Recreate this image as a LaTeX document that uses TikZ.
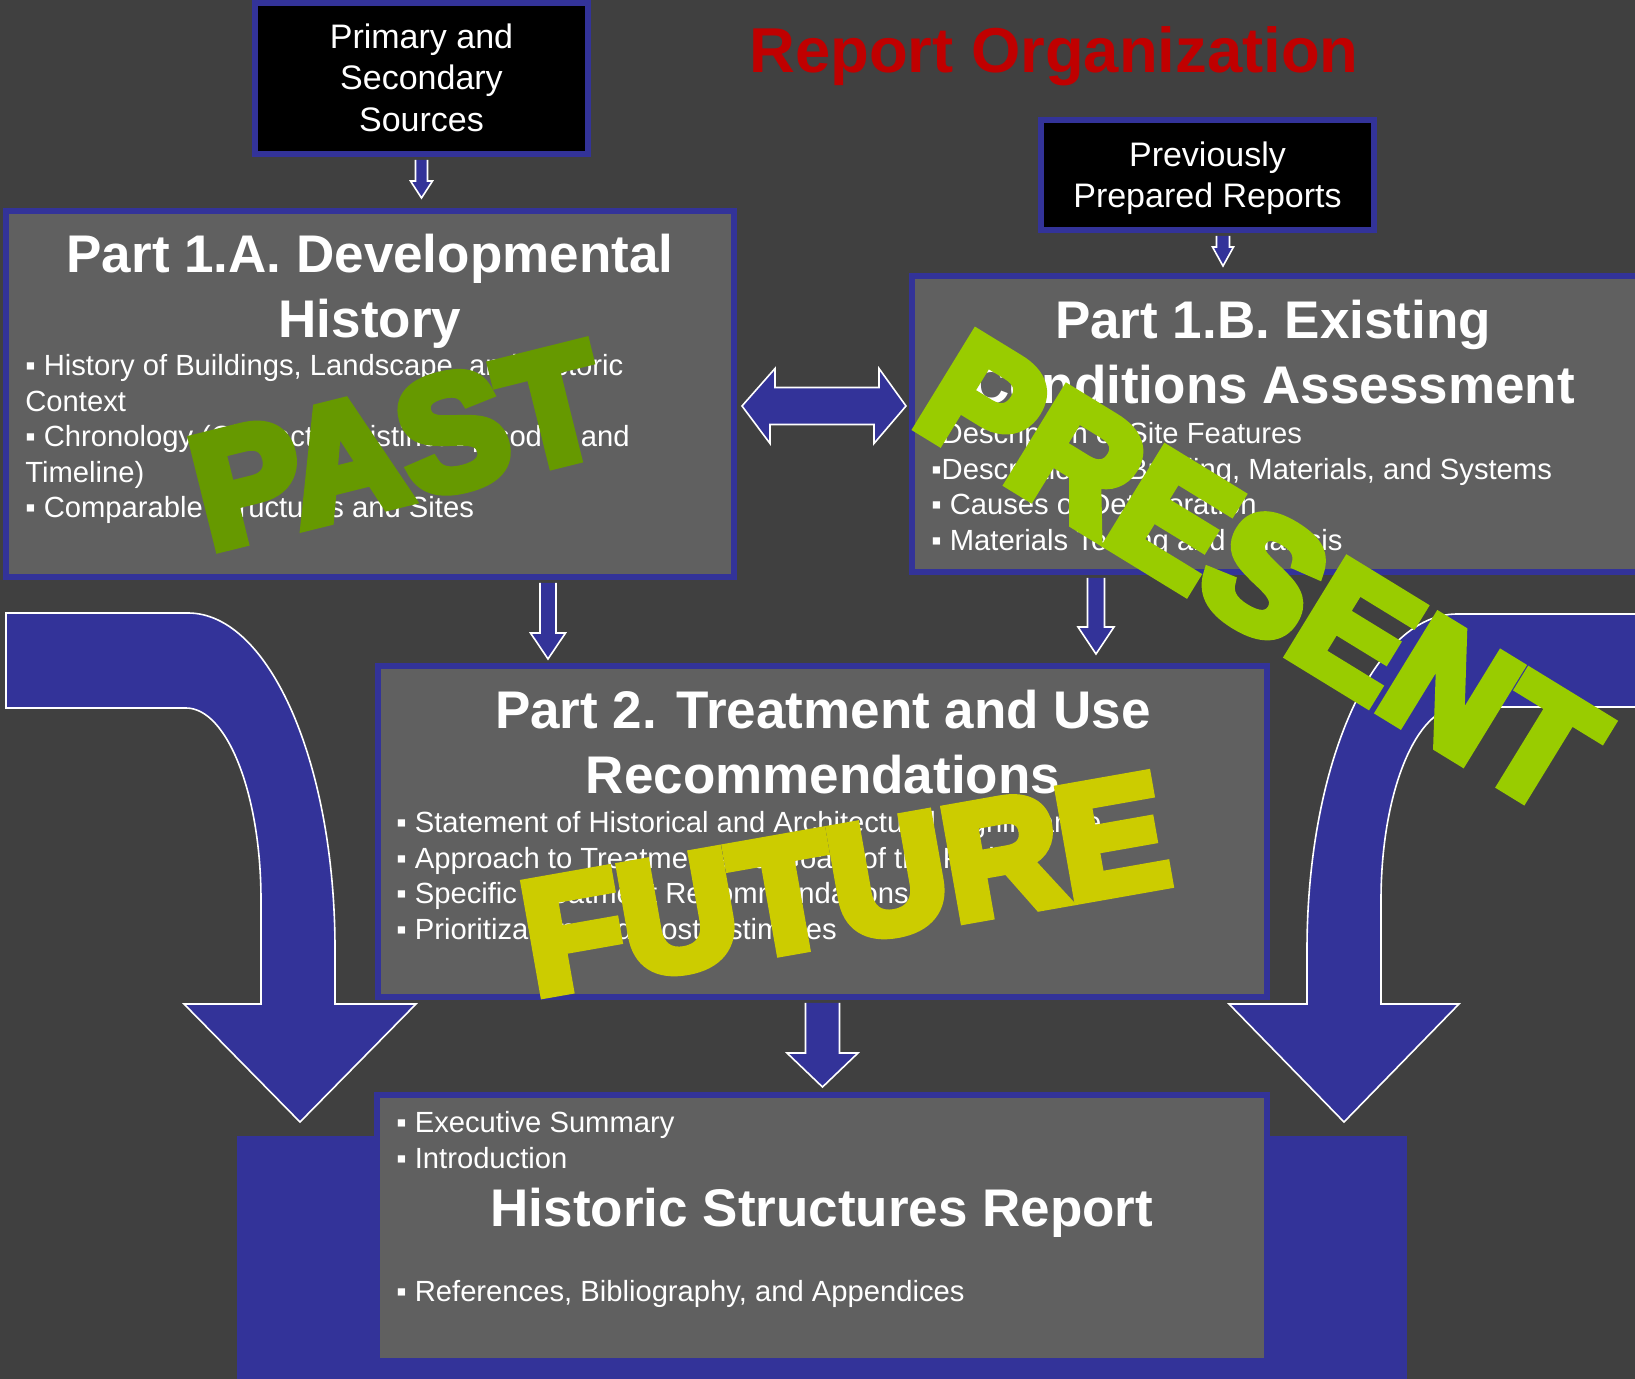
\documentclass[tikz,border=0pt]{standalone}
\usepackage{fontspec}
\setmainfont{Liberation Sans}
\newfontfamily\artfont[BoldFeatures={FakeBold=7}]{Liberation Sans}
\usetikzlibrary{calc, fit}

\definecolor{slidebg}{RGB}{64,64,64}
\definecolor{boxgray}{RGB}{96,96,96}
\definecolor{navy}{RGB}{51,51,153}
\definecolor{titlered}{RGB}{192,0,0}
\definecolor{pastgreen}{RGB}{102,153,0}
\definecolor{presentgreen}{RGB}{153,204,0}
\definecolor{futureyellow}{RGB}{204,204,0}

% Blockpfeil nach unten: Start, Spitze, halbe Schaftbreite, halbe Kopfbreite, Kopflaenge
\newcommand{\blockdown}[5]{%
    \draw[blockarrow] ($(#1)+(-#3,0)$) -- ($(#2)+(-#3,-#5)$) -- ($(#2)+(-#4,-#5)$) -- (#2)
        -- ($(#2)+(#4,-#5)$) -- ($(#2)+(#3,-#5)$) -- ($(#1)+(#3,0)$);}

\begin{document}
\begin{tikzpicture}[x=0.5pt, y=-0.5pt,
        box/.style = {draw=navy, line width=3pt, fill=boxgray, inner sep=0pt},
        srcbox/.style = {draw=navy, line width=3pt, fill=black, inner sep=0pt},
        blockarrow/.style = {fill=navy, draw=white, line width=0.8pt},
        headline/.style = {text=white, align=center, inner sep=0pt, anchor=north, font=\bfseries\fontsize{26.5}{32.5}\selectfont},
        srcline/.style = {text=white, align=center, inner sep=0pt, anchor=north, font=\fontsize{17}{20.75}\selectfont},
        itemline/.style = {text=white, align=left, inner sep=0pt, anchor=north west, font=\fontsize{14.6}{17.75}\selectfont},
        wordart/.style = {inner sep=0pt, font=\artfont\bfseries\fontsize{80}{80}\selectfont}
    ]
    %Hintergrund
    \useasboundingbox (0,0) rectangle (1635,1379);
    \clip (0,0) rectangle (1635,1379);
    \fill[slidebg] (0,0) rectangle (1635,1379);

    %grosse Pfeile
    \draw[blockarrow] (6,613) -- (188,613) .. controls (269,613) and (335,763) .. (335,949)
        -- (335,1004) -- (416,1004) -- (300,1122) -- (184,1004) -- (261,1004) -- (261,900)
        .. controls (261,794) and (227,708) .. (186,708) -- (6,708) -- cycle;
    \draw[blockarrow] (1650,614) -- (1457,614) .. controls (1374,614) and (1307,764) .. (1307,950)
        -- (1307,1004) -- (1229,1004) -- (1344,1122) -- (1459,1004) -- (1381,1004) -- (1381,900)
        .. controls (1381,793) and (1416,707) .. (1459,707) -- (1650,707) -- cycle;
    \fill[navy] (237,1136) rectangle (1407,1390);

    %Kaesten
    \node[srcbox, fit={(255,3) (588,154)}] (sources) {};
    \node[srcbox, fit={(1041,120) (1374,230)}] (prevrep) {};
    \node[box, fit={(6,211) (734,577)}] (part1a) {};
    \node[box, fit={(912,276) (1650,572)}] (part1b) {};
    \node[box, fit={(378,666) (1267,997)}] (part2) {};
    \node[box, fit={(377,1095) (1267,1361)}] (hsr) {};

    %Pfeile
    \coordinate (s0) at ($(sources.south)+(0,3)$);
    \coordinate (s1) at ($(sources.south |- part1a.north)+(0,-10)$);
    \coordinate (p0) at ($(prevrep.south)+(15.5,3)$);
    \coordinate (p1) at ($(p0 |- part1b.north)+(0,-7)$);
    \coordinate (a0) at ($(part1a.south)+(178,3)$);
    \coordinate (a1) at ($(a0 |- part2.north)+(0,-4)$);
    \coordinate (b0) at ($(part1b.south)+(-185,3)$);
    \coordinate (b1) at ($(b0 |- part2.north)+(0,-9)$);
    \coordinate (c0) at ($(part2.south)+(0,3)$);
    \coordinate (c1) at ($(c0 |- hsr.north)+(0,-5)$);
    \blockdown{s0}{s1}{6}{11}{17}
    \blockdown{p0}{p1}{6.5}{10.5}{19}
    \blockdown{a0}{a1}{8}{17.5}{26}
    \blockdown{b0}{b1}{8.5}{18}{27}
    \blockdown{c0}{c1}{17}{35.5}{34}

    \coordinate (dl) at ($(part1a.east |- 0,406)+(5,0)$);
    \coordinate (dr) at ($(part1b.west |- 0,406)+(-3,0)$);
    \draw[blockarrow] (dl) -- ++(33,-37.5) -- ++(0,19) -- ++(104,0) -- ++(0,-19) -- (dr)
        -- ++(-32,37.5) -- ++(0,-19) -- ++(-104,0) -- ++(0,19) -- cycle;

    %Texte
    \node[text=titlered, anchor=base, font=\bfseries\fontsize{31.7}{38}\selectfont] (heading) at (1054,73) {Report Organization};
    \node[srcline] (srctxt) at (421.5,23) {Primary and\\Secondary\\Sources};
    \node[srcline] (prevtxt) at (1207.5,141) {Previously\\Prepared Reports};

    \node[headline] (head1a) at (370,234) {Part 1.A. Developmental\\History};
    \node[itemline] (items1a) at (25,354) {▪ History of Buildings, Landscape, and Historic\\Context\\▪ Chronology (Character-Distinct Episodes and\\Timeline)\\▪ Comparable Structures and Sites};

    \node[headline] (head1b) at (1273,300) {Part 1.B. Existing\\Conditions Assessment};
    \node[itemline] (items1b) at (931,422) {▪Description of Site Features\\▪Description of Building, Materials, and Systems\\▪ Causes of Deterioration\\▪ Materials Testing and Analysis};

    \node[headline] (head2) at (823,690) {Part 2. Treatment and Use\\Recommendations};
    \node[itemline] (items2) at (396,811) {▪ Statement of Historical and Architectural Significance\\▪ Approach to Treatment and Goals of the Project\\▪ Specific Treatment Recommendations\\▪ Prioritization and Cost Estimates};

    \node[itemline] (itemshsr) at (396,1111) {▪ Executive Summary\\▪ Introduction};
    \node[headline] (headhsr) at (822,1188) {Historic Structures Report};
    \node[itemline, anchor=base west] (refs) at (396,1301) {▪ References, Bibliography, and Appendices};

    %Zeiten
    \node[wordart, text=pastgreen, rotate=14] (past) at (398,446) {PAST};
    \node[wordart, text=presentgreen, rotate=-31.5] (present) at (1261,573) {PRESENT};
    \node[wordart, text=futureyellow, rotate=10] (future) at (845,885) {FUTURE};
\end{tikzpicture}
\end{document}
